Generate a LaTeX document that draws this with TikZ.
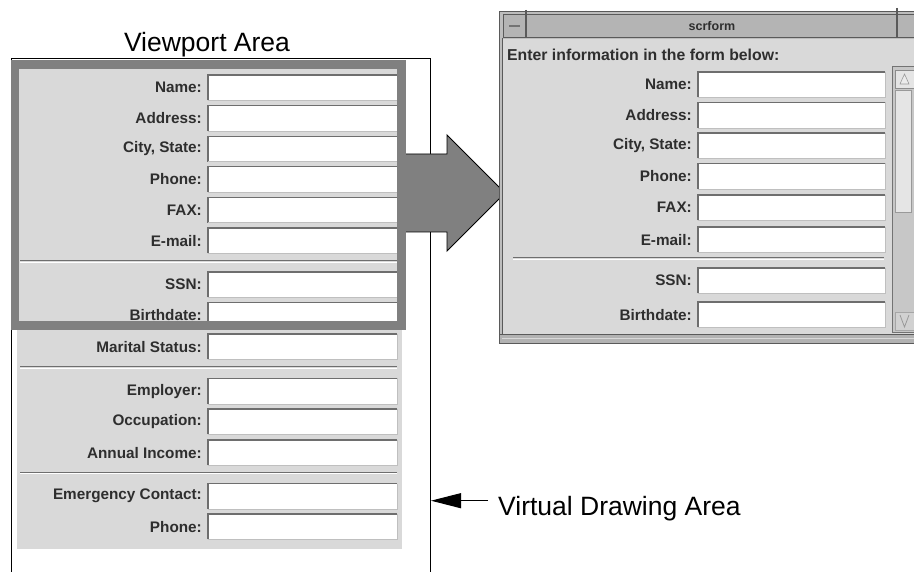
\documentclass[tikz,border=0pt]{standalone}
\usepackage{fontspec}
\setmainfont{Liberation Sans}
\usetikzlibrary{arrows.meta}
\definecolor{formbg}{HTML}{D9D9D9}
\definecolor{framegray}{HTML}{808080}
\definecolor{shadowc}{HTML}{6E6E6E}
\definecolor{lblc}{HTML}{2E2E2E}
\definecolor{winframe}{HTML}{BDBDBD}
\definecolor{titlec}{HTML}{B4B4B4}
\definecolor{darkline}{HTML}{5A5A5A}
\tikzset{
  field/.style={fill=white, draw=none, minimum height=25pt, inner sep=0pt, anchor=north west},
  lab/.style={font=\bfseries\fontsize{15.3}{15.3}\selectfont, text=lblc, anchor=east, inner sep=0pt},
  caption/.style={font=\fontsize{26.5}{26.5}\selectfont, inner sep=0pt},
  sepline/.style={draw=shadowc, line width=1pt},
  ptr/.style={line width=1pt, -{Triangle[length=30pt,width=15pt]}},
}
\newcommand{\frow}[5]{% name, xfield, ytop, width, label
  \node[field, minimum width=#4pt] (#1) at (#2,#3) {};
  \draw[shadowc, line width=1.3pt] (#1.south west) -- (#1.north west) -- (#1.north east);
  \draw[black!25, line width=0.6pt] (#1.north east) -- (#1.south east) -- (#1.south west);
  \node[lab] (#1-l) at ([xshift=-6pt]#1.west) {#5};
}
\begin{document}
\begin{tikzpicture}[x=1pt,y=-1pt]
\useasboundingbox (0,0) rectangle (914,572);

% ---------- left: virtual drawing area ----------
\fill[formbg] (17,62) rectangle (402,549);
\frow{nameL}{208}{75}{189}{Name:}
\frow{addrL}{208}{105.6}{189}{Address:}
\frow{cityL}{208}{136.2}{189}{City, State:}
\frow{phoneL}{208}{166.8}{189}{Phone:}
\frow{faxL}{208}{197.4}{189}{FAX:}
\frow{mailL}{208}{228}{189}{E-mail:}
\draw[sepline] (20,261) -- (397,261);
\draw[white, line width=0.8pt] (20,262.5) -- (397,262.5);
\frow{ssnL}{208}{272}{189}{SSN:}
\frow{birthL}{208}{302.6}{189}{Birthdate:}
\frow{maritalL}{208}{334}{189}{Marital Status:}
\draw[sepline] (20,367) -- (397,367);
\draw[white, line width=0.8pt] (20,368.5) -- (397,368.5);
\frow{emplL}{208}{378.5}{189}{Employer:}
\frow{occL}{208}{409}{189}{Occupation:}
\frow{incL}{208}{440}{189}{Annual Income:}
\draw[sepline] (20,472) -- (397,472);
\draw[white, line width=0.8pt] (20,473.5) -- (397,473.5);
\frow{emergL}{208}{483.5}{189}{Emergency Contact:}
\frow{phone2L}{208}{514}{189}{Phone:}

% virtual area outline (open at bottom)
\draw[black, line width=1pt] (11,572) -- (11,59) -- (430.5,59) -- (430.5,572);

% big gray arrow
\filldraw[fill=framegray, draw=black, line width=0.9pt, line join=miter]
  (402,154) -- (447,154) -- (447,135) -- (505,193) -- (447,251) -- (447,232) -- (402,232) -- cycle;

% viewport frame
\draw[framegray, line width=8.5pt] (15,64.5) rectangle (401.7,325.5);

\node[caption, anchor=base] (vp) at (207,52) {Viewport Area};

% ---------- right: window ----------
\filldraw[fill=winframe, draw=darkline, line width=1pt] (499,12) rectangle (920,344);
\filldraw[fill=titlec, draw=darkline, line width=1pt] (503,15) rectangle (920,38);
\draw[darkline, line width=1.2pt] (526,10) -- (526,38);
\draw[darkline, line width=1.2pt] (897,8) -- (897,38);
\draw[black!55, line width=1.5pt] (509,26) -- (520,26);
\node[font=\bfseries\fontsize{12.5}{12.5}\selectfont, text=lblc, inner sep=0pt] (title) at (712,26.5) {scrform};
\fill[formbg] (503,39) rectangle (914,335);
\node[font=\bfseries\fontsize{15.8}{15.8}\selectfont, text=lblc, anchor=west, inner sep=0pt] (intro) at (507,55) {Enter information in the form below:};
\draw[darkline, line width=1pt] (502,38) -- (502,338);

\frow{nameR}{698}{72}{187}{Name:}
\frow{addrR}{698}{102.5}{187}{Address:}
\frow{cityR}{698}{133}{187}{City, State:}
\frow{phoneR}{698}{163.5}{187}{Phone:}
\frow{faxR}{698}{195}{187}{FAX:}
\frow{mailR}{698}{227}{187}{E-mail:}
\draw[sepline] (513,258) -- (884,258);
\draw[white, line width=0.8pt] (513,259.5) -- (884,259.5);
\frow{ssnR}{698}{268}{187}{SSN:}
\frow{birthR}{698}{302}{187}{Birthdate:}
\fill[formbg] (503,330) rectangle (890,335);

% scrollbar
\filldraw[fill=black!22, draw=black!55, line width=1pt] (892,67) rectangle (918,333);
\filldraw[fill=black!10, draw=black!45, line width=0.8pt] (895,70) rectangle (914,88);
\filldraw[fill=black!8, draw=black!40, line width=0.6pt] (900,84) -- (904.5,74) -- (909,84) -- cycle;
\filldraw[fill=black!10, draw=black!40, line width=0.8pt] (895,90) rectangle (911,212);
\filldraw[fill=black!18, draw=black!35, line width=0.8pt] (895,312) rectangle (914,330);
\draw[black!40, line width=0.8pt] (900,315) -- (904.5,327) -- (909,315);

% window bottom border
\filldraw[fill=black!30, draw=darkline, line width=1pt] (499,335) rectangle (920,344);
\draw[black!15, line width=1pt] (502,339) -- (917,339);

% ---------- virtual drawing area pointer ----------
\node[caption, anchor=base west] (vda) at (498,515) {Virtual Drawing Area};
\coordinate (vdaTail) at (488,500.7);
\coordinate (vdaEdge) at (431,500.7);
\draw[ptr] (vdaTail) -- (vdaEdge);
\end{tikzpicture}
\end{document}
